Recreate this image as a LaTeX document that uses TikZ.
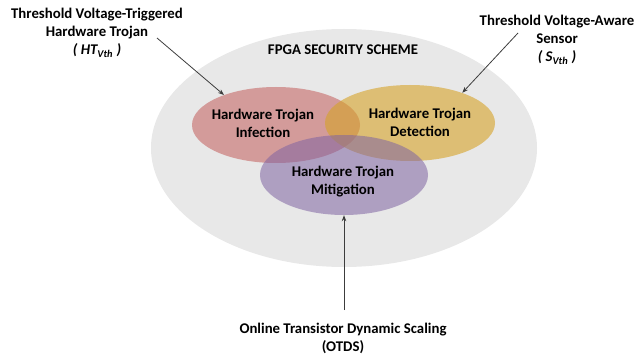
\documentclass[tikz,border=0pt]{standalone}
\usepackage{fontspec}
\setmainfont{Carlito}
\usetikzlibrary{shapes.geometric,arrows.meta}
\definecolor{schemegray}{RGB}{232,232,232}
\definecolor{infectred}{RGB}{192,80,77}
\definecolor{detectgold}{RGB}{214,162,40}
\definecolor{mitigpurple}{RGB}{128,100,162}
\definecolor{pointergray}{RGB}{60,60,60}
\begin{document}
\begin{tikzpicture}[x=1pt,y=-1pt,
    txt/.style={font=\bfseries\fontsize{14.8}{18}\selectfont, align=center, inner sep=0pt},
    blob/.style={ellipse, draw=none, inner sep=0pt},
    pointer/.style={draw=pointergray, line width=0.8pt, -{Stealth[length=6pt,width=4.5pt]}}]
  \useasboundingbox (0,0) rectangle (636,355);
  % scheme and the three stages
  \node[blob, fill=schemegray, minimum width=386pt, minimum height=238pt] (scheme) at (344,148) {};
  \node[blob, fill=infectred, fill opacity=0.5, minimum width=168pt, minimum height=76pt] (infection) at (276,125) {};
  \node[blob, fill=detectgold, fill opacity=0.6, minimum width=170pt, minimum height=76pt] (detection) at (410,123) {};
  \node[blob, fill=mitigpurple, fill opacity=0.55, minimum width=168pt, minimum height=80pt] (mitigation) at (344,175) {};
  \node[txt] (title) at (343,50) {FPGA SECURITY SCHEME};
  \node[txt] (infectionText) at (263,123) {Hardware Trojan\\Infection};
  \node[txt] (detectionText) at (420,122) {Hardware Trojan\\Detection};
  \node[txt] (mitigationText) at (343,182) {Hardware Trojan\\Mitigation};
  % outside labels
  \node[txt] (htvth) at (97,33) {Threshold Voltage-Triggered\\Hardware Trojan\\\textit{( HT\textsubscript{Vth} )}};
  \node[txt] (svth) at (557,40) {Threshold Voltage-Aware\\Sensor\\\textit{( S\textsubscript{Vth} )}};
  \node[txt] (otds) at (343,338) {Online Transistor Dynamic Scaling\\(OTDS)};
  \coordinate (htvthTail) at (157,38);
  \coordinate (svthTail) at (518,33);
  \coordinate (otdsTail) at (344,310);
  \draw[pointer] (htvthTail) -- (infection.150);
  \draw[pointer] (svthTail) -- (detection.30);
  \draw[pointer] (otdsTail) -- (mitigation.south);
\end{tikzpicture}
\end{document}
